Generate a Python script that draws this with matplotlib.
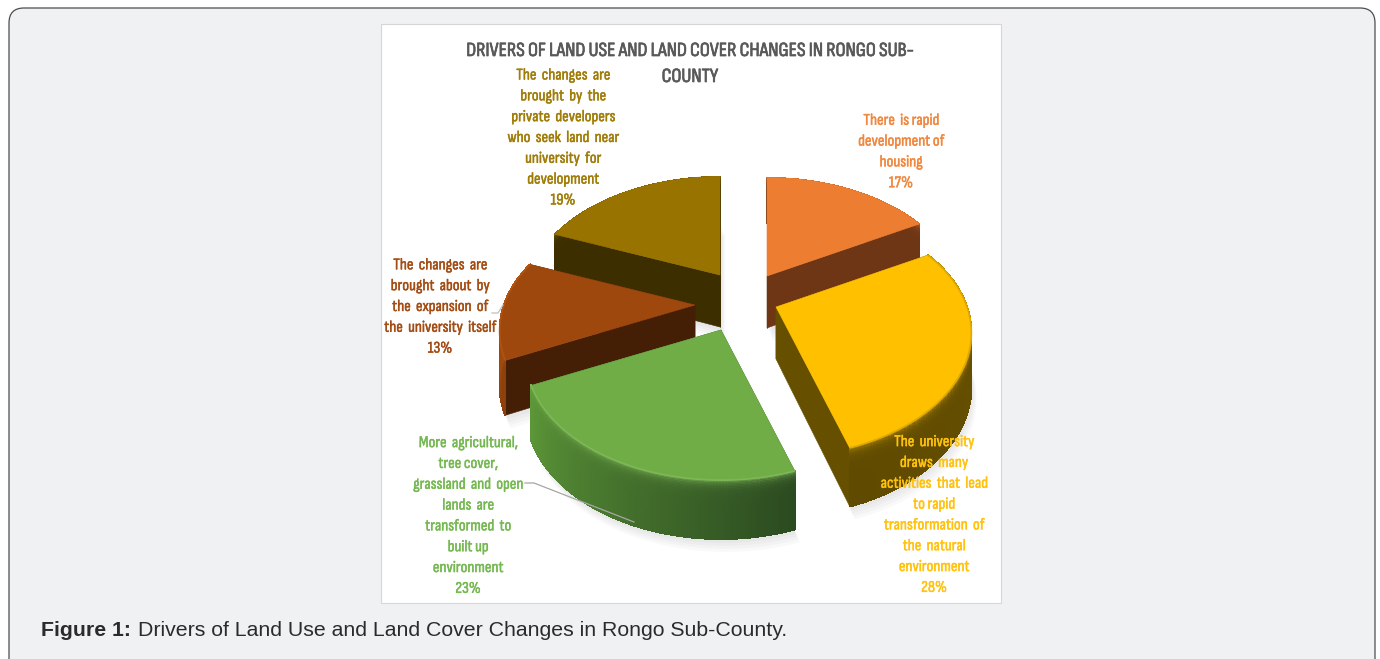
import numpy as np
import matplotlib
matplotlib.use("Agg")
import matplotlib.pyplot as plt
import matplotlib.patheffects as pe
from matplotlib.collections import PolyCollection
from matplotlib.colors import to_rgb
from matplotlib.patches import FancyBboxPatch, Polygon, Rectangle

title = "DRIVERS OF LAND USE AND LAND COVER CHANGES IN RONGO SUB-\nCOUNTY"
caption_bold = "Figure 1:"
caption_rest = "Drivers of Land Use and Land Cover Changes in Rongo Sub-County."

labels = [
    "There  is rapid\ndevelopment of\nhousing",
    "The  university\ndraws  many\nactivities  that  lead\nto rapid\ntransformation  of\nthe  natural\nenvironment",
    "More  agricultural,\ntree cover,\ngrassland  and  open\nlands  are\ntransformed  to\nbuilt up\nenvironment",
    "The  changes  are\nbrought  about  by\nthe  expansion  of\nthe  university  itself",
    "The  changes  are\nbrought  by  the\nprivate  developers\nwho  seek  land  near\nuniversity  for\ndevelopment",
]
values = [17, 28, 23, 13, 19]

top_colors = ["#ed7d31", "#ffc000", "#70ad47", "#9e480e", "#997300"]
text_colors = ["#f0883f", "#ffc20e", "#76b852", "#a34d14", "#a07c08"]
face_colors = ["#6e3614", "#665000", "#3f6428", "#451e06", "#3d2e00"]
wall_start = ["#6e3614", "#6a5200", "#2b4a20", "#8a3f0c", "#3d2e00"]
wall_end = ["#6e3614", "#5f4a00", "#5c9638", "#b8540f", "#3d2e00"]
rim_colors = ["#ed7d31", "#c89a00", "#86c05e", "#c05a12", "#997300"]

# where each exploded slice has its tip and where its label sits, in picture pixels
apex_x = [767, 776, 721, 695, 720]
apex_y = [276, 307, 330, 305, 275]
label_x = [901, 934, 468, 440, 563]
label_y = [152, 515, 516, 307, 138]
draw_order = [4, 0, 3, 1, 2]

# perspective of the tilted disc
A, B, K = 118.6, 191.0, 0.21
DEPTH = 52


def project(i, theta):
    s, c = np.sin(theta), np.cos(theta)
    w = 1 + K * c
    return apex_x[i] + B * s / w, apex_y[i] - A * c / w


def depth_at(theta):
    return DEPTH * (1 - 0.13 * np.cos(theta))


def mix(a, b, t):
    a, b = np.array(to_rgb(a)), np.array(to_rgb(b))
    return tuple(a + (b - a) * t)


def draw_slice(ax, i, start, stop):
    th = np.linspace(start, stop, 120)
    rx, ry = project(i, th)
    d = depth_at(th)
    tip = (apex_x[i], apex_y[i])
    outline = np.vstack([[tip], np.column_stack([rx, ry])])
    under = np.vstack([[(tip[0], tip[1] + DEPTH)], np.column_stack([rx, ry + d])])

    # soft shadow under the block
    for off in [13, 10, 7, 4]:
        ax.add_patch(Polygon(under + [off * 0.4, off], closed=True, fc="black",
                             ec="none", alpha=0.025, zorder=1 + draw_order.index(i) * 0.1))

    z = 2 + draw_order.index(i)
    for end, x, y, dd in [(0, rx[0], ry[0], d[0]), (-1, rx[-1], ry[-1], d[-1])]:
        quad = [tip, (x, y), (x, y + dd), (tip[0], tip[1] + DEPTH)]
        ax.add_patch(Polygon(quad, closed=True, fc=face_colors[i], ec=face_colors[i], lw=0.4, zorder=z))

    # outer wall as thin strips, shaded along the arc and down from the rim
    quads, cols = [], []
    bands = np.linspace(0, 1, 41)
    for j in range(len(th) - 1):
        base = mix(wall_start[i], wall_end[i], j / (len(th) - 2))
        for v0, v1 in zip(bands[:-1], bands[1:]):
            quads.append([(rx[j], ry[j] + d[j] * v0), (rx[j + 1], ry[j + 1] + d[j + 1] * v0),
                          (rx[j + 1], ry[j + 1] + d[j + 1] * v1), (rx[j], ry[j] + d[j] * v1)])
            cols.append(mix(base, rim_colors[i], 0.75 * np.exp(-v0 * 14)))
    ax.add_collection(PolyCollection(quads, facecolors=cols, edgecolors=cols, linewidths=0.8,
                                     antialiaseds=False, zorder=z))

    ax.add_patch(Polygon(outline, closed=True, fc=top_colors[i], ec=top_colors[i], lw=0.4, zorder=z))
    ax.plot(rx, ry, color=mix(top_colors[i], rim_colors[i], 0.6), lw=1.2, zorder=z, solid_capstyle="butt")


fig = plt.figure(figsize=(13.8, 6.59), dpi=100, facecolor="white")
ax = fig.add_axes([0, 0, 1, 1])
ax.set_xlim(0, 1380)
ax.set_ylim(659, 0)
ax.axis("off")

ax.add_patch(FancyBboxPatch((9, 8), 1366, 680, boxstyle="round,pad=0,rounding_size=15",
                            fc="#eff1f3", ec="#4d4d4d", lw=0.9, zorder=0))
ax.add_patch(Rectangle((380.5, 24), 620, 579, fc="white", ec="#d6d6d6", lw=0.8, zorder=0.5))

narrow = ["Ubuntu Condensed", "Sofia Sans Condensed", "Roboto"]
tt = ax.text(690, 64, title, ha="center", va="center", fontsize=14.5, fontweight="bold",
             color="#595959", family=narrow, linespacing=1.57, zorder=20)
tt.set_path_effects([pe.withStroke(linewidth=0.5, foreground="#595959")])

edges = np.cumsum([0] + values) / sum(values) * 2 * np.pi
for i in draw_order:
    draw_slice(ax, i, edges[i], edges[i + 1])

ax.plot([525, 534, 634], [483, 483, 522], color="#a6a6a6", lw=0.9, zorder=15)
ax.plot([492, 498, 503], [313, 313, 305], color="#bfbfbf", lw=0.9, zorder=15)

for i in range(len(values)):
    t = ax.text(label_x[i], label_y[i], "%s\n%d%%" % (labels[i], values[i]), ha="center", va="center",
                fontsize=11.8, fontweight="bold", color=text_colors[i], family=narrow,
                linespacing=1.62, zorder=20)
    t.set_path_effects([pe.withStroke(linewidth=0.3, foreground=text_colors[i])])

ax.text(41, 631, caption_bold, ha="left", va="center", fontsize=15.3, fontweight="bold",
        color="#2b2b2b", family="Liberation Sans", zorder=20)
ax.text(138, 631, caption_rest, ha="left", va="center", fontsize=15.35,
        color="#2b2b2b", family="Liberation Sans", zorder=20)

fig.savefig("out.png", dpi=100, facecolor="white")
